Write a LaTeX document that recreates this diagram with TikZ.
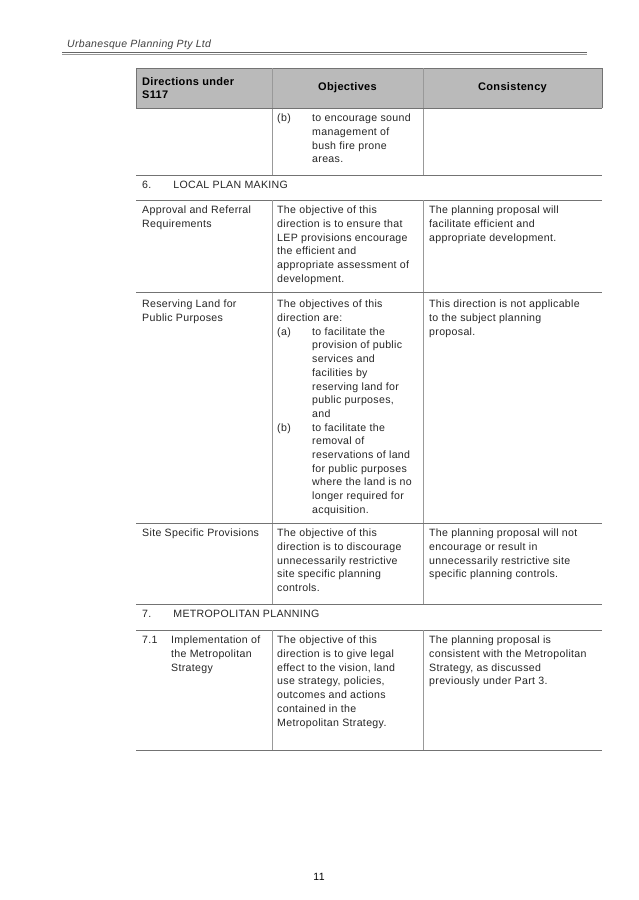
\documentclass[tikz,border=0pt]{standalone}
\usepackage{fontspec}
\setmainfont{Liberation Sans}[LetterSpace=3]
\begin{document}
\begin{tikzpicture}[x=1pt,y=-1pt,
  tx/.style={anchor=north west,inner sep=0pt,align=left,font=\fontsize{10.6}{13.7}\selectfont,text=black!85},
  hd/.style={anchor=center,inner sep=0pt,align=left,font=\fontsize{11}{12.5}\selectfont\bfseries},
  rl/.style={draw=black!55,line width=0.8pt},
  vl/.style={draw=black!40,line width=0.5pt}]
\useasboundingbox (0,0) rectangle (638,900);
\fill[white] (0,0) rectangle (638,900);
\node[anchor=west,inner sep=0pt,font=\fontsize{10.5}{12}\selectfont\itshape,text=black!75] (hdr) at (67,45) {Urbanesque Planning Pty Ltd};
\draw[black!60,line width=1pt] (62,52.5) -- (587,52.5);
\draw[black!40,line width=0.4pt] (62,54.5) -- (587,54.5);
% header
\fill[black!27] (136,68) rectangle (602,108);
\draw[black!55,line width=0.8pt] (136,68) -- (602,68) (136,68) -- (136,108) (602,68)--(602,108);
\draw[vl] (272,68) -- (272,175) (423,68) -- (423,175);
\node[hd,anchor=west] (h1) at (142,88) {Directions under\\S117};
\node[hd] (h2) at (347.5,88) {Objectives};
\node[hd] (h3) at (512.5,88) {Consistency};
\draw[rl] (136,108) -- (602,108);
% row b
\node[tx] (b1) at (277,114) {(b)};
\node[tx] (b2) at (312,114) {to encourage sound\\management of\\bush fire prone\\areas.};
\draw[rl] (136,175) -- (602,175);
\node[tx] (s6) at (142,180.5) {6.\hspace{22pt}LOCAL PLAN MAKING};
\draw[rl] (136,200) -- (602,200);
\draw[vl] (272,200) -- (272,604) (423,200) -- (423,604);
% row approval
\node[tx] (a1) at (142,206) {Approval and Referral\\Requirements};
\node[tx] (a2) at (277,206) {The objective of this\\direction is to ensure that\\LEP provisions encourage\\the efficient and\\appropriate assessment of\\development.};
\node[tx] (a3) at (429,206) {The planning proposal will\\facilitate efficient and\\appropriate development.};
\draw[rl] (136,292) -- (602,292);
% reserving
\node[tx] (r1) at (142,300) {Reserving Land for\\Public Purposes};
\node[tx] (r2) at (277,300) {The objectives of this\\direction are:\\(a)};
\node[tx] (r2a) at (312,327.4) {to facilitate the\\provision of public\\services and\\facilities by\\reserving land for\\public purposes,\\and};
\node[tx] (r2b) at (277,423.3) {(b)};
\node[tx] (r2c) at (312,423.3) {to facilitate the\\removal of\\reservations of land\\for public purposes\\where the land is no\\longer required for\\acquisition.};
\node[tx] (r3) at (429,300) {This direction is not applicable\\to the subject planning\\proposal.};
\draw[rl] (136,523) -- (602,523);
% site specific
\node[tx] (p1) at (142,529) {Site Specific Provisions};
\node[tx] (p2) at (277,529) {The objective of this\\direction is to discourage\\unnecessarily restrictive\\site specific planning\\controls.};
\node[tx] (p3) at (429,529) {The planning proposal will not\\encourage or result in\\unnecessarily restrictive site\\specific planning controls.};
\draw[rl] (136,604) -- (602,604);
\node[tx] (s7) at (142,609.5) {7.\hspace{22pt}METROPOLITAN PLANNING};
\draw[rl] (136,630) -- (602,630);
\draw[vl] (272,630) -- (272,750) (423,630) -- (423,750);
\node[tx] (m0) at (142,636) {7.1};
\node[tx] (m1) at (171,636) {Implementation of\\the Metropolitan\\Strategy};
\node[tx] (m2) at (277,636) {The objective of this\\direction is to give legal\\effect to the vision, land\\use strategy, policies,\\outcomes and actions\\contained in the\\Metropolitan Strategy.};
\node[tx] (m3) at (429,636) {The planning proposal is\\consistent with the Metropolitan\\Strategy, as discussed\\previously under Part 3.};
\draw[rl] (136,750) -- (602,750);
\node[inner sep=0pt,font=\fontsize{10.5}{12}\selectfont] (pg) at (319,877) {11};
\end{tikzpicture}
\end{document}
